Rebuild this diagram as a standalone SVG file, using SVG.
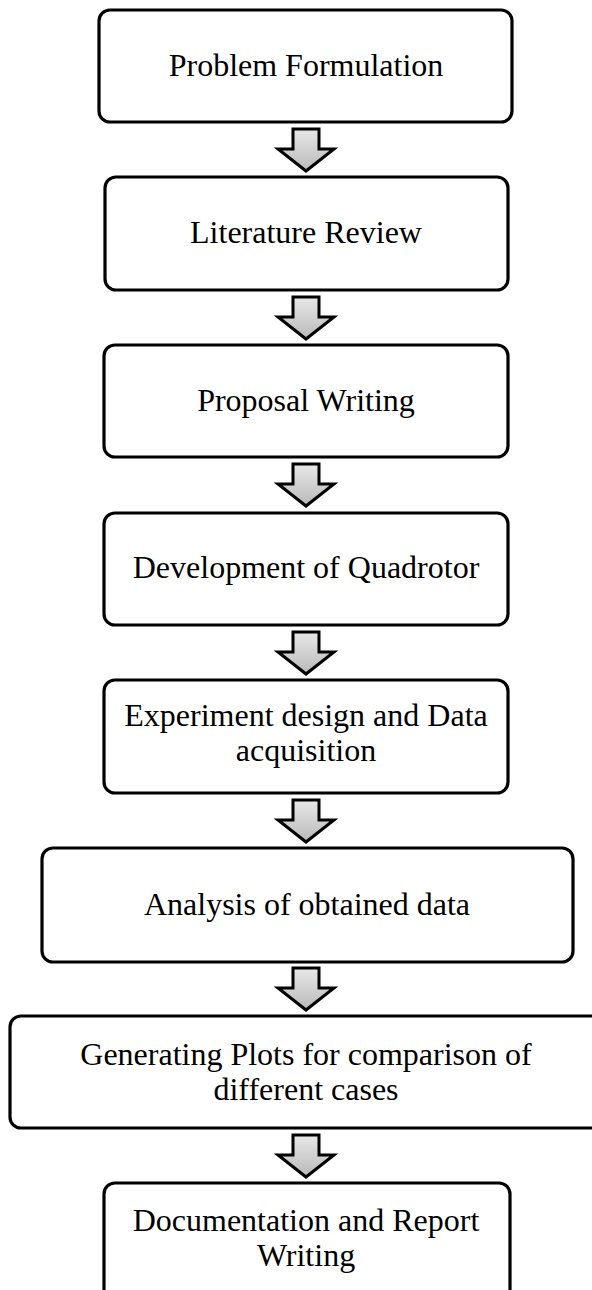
<svg xmlns="http://www.w3.org/2000/svg" width="592" height="1290" viewBox="0 0 592 1290">
  <style>
    .box { fill: #ffffff; stroke: #000000; stroke-width: 3.2; }
    .label { font-family: "Liberation Serif", "Times New Roman", serif; font-size: 32px; fill: #000000; text-anchor: middle; }
    .arrow { fill: url(#arrowFill); stroke: #000000; stroke-width: 3; stroke-linejoin: miter; }
  </style>
  <defs>
    <linearGradient id="arrowFill" x1="0" y1="0" x2="0" y2="1">
      <stop offset="0" stop-color="#e8e8e8"/>
      <stop offset="1" stop-color="#b9b9b9"/>
    </linearGradient>
    <!-- block arrow, shaft top at the origin -->
    <path id="downArrow" class="arrow" d="M -13 0 H 13 V 20 H 28 L 0 42 L -28 20 H -13 Z"/>
  </defs>

  <rect width="592" height="1290" fill="#ffffff"/>

  <g id="connectors">
    <use href="#downArrow" x="306" y="129"/>
    <use href="#downArrow" x="306" y="297"/>
    <use href="#downArrow" x="306" y="464"/>
    <use href="#downArrow" x="306" y="632"/>
    <use href="#downArrow" x="306" y="800"/>
    <use href="#downArrow" x="306" y="968"/>
    <use href="#downArrow" x="306" y="1135"/>
  </g>

  <g id="problem-formulation">
    <rect class="box" x="99" y="10" width="413" height="112" rx="11"/>
    <text class="label" x="306" y="76">Problem Formulation</text>
  </g>

  <g id="literature-review">
    <rect class="box" x="105" y="177" width="403" height="113" rx="11"/>
    <text class="label" x="306" y="243">Literature Review</text>
  </g>

  <g id="proposal-writing">
    <rect class="box" x="104" y="345" width="404" height="112" rx="11"/>
    <text class="label" x="306" y="411">Proposal Writing</text>
  </g>

  <g id="development-of-quadrotor">
    <rect class="box" x="104" y="513" width="404" height="112" rx="11"/>
    <text class="label" x="306" y="578">Development of Quadrotor</text>
  </g>

  <g id="experiment-design">
    <rect class="box" x="104" y="680" width="404" height="113" rx="11"/>
    <text class="label" x="306" y="726">Experiment design and Data</text>
    <text class="label" x="306" y="761">acquisition</text>
  </g>

  <g id="analysis">
    <rect class="box" x="42" y="848" width="531" height="114" rx="11"/>
    <text class="label" x="307" y="915">Analysis of obtained data</text>
  </g>

  <g id="generating-plots">
    <rect class="box" x="10" y="1016" width="600" height="112" rx="11"/>
    <text class="label" x="306" y="1065">Generating Plots for comparison of</text>
    <text class="label" x="306" y="1100">different cases</text>
  </g>

  <g id="documentation">
    <rect class="box" x="104" y="1183" width="406" height="140" rx="11"/>
    <text class="label" x="306" y="1231">Documentation and Report</text>
    <text class="label" x="306" y="1266">Writing</text>
  </g>
</svg>
